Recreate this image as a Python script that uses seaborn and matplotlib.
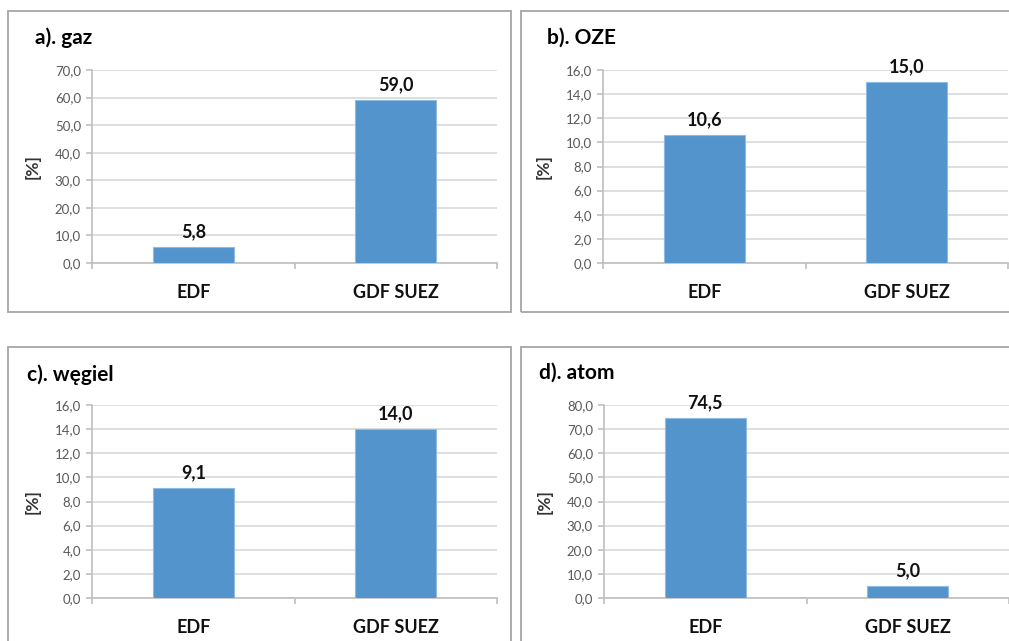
import numpy as np
import pandas as pd
import matplotlib
matplotlib.use("Agg")
import matplotlib.pyplot as plt
from matplotlib.patches import Rectangle
import seaborn as sns

companies = ["EDF", "GDF SUEZ"]
titles = ["a). gaz", "b). OZE", "c). węgiel", "d). atom"]
gaz = [5.8, 59.0]
oze = [10.6, 15.0]
wegiel = [9.1, 14.0]
atom = [74.5, 5.0]
y_max = [70, 16, 16, 80]
y_step = [10, 2, 2, 10]

sns.set_style("white")
plt.rcParams["font.family"] = ["Lato", "DejaVu Sans"]

W, H = 1009, 641
fig = plt.figure(figsize=(W / 100, H / 100), dpi=100)

def px(l, t, r, b):
    return [l / W, 1 - b / H, (r - l) / W, (b - t) / H]

# panel boxes (left, top, right, bottom) in pixels
boxes = [(8, 11, 511, 312), (521, 11, 1015, 312),
         (8, 347, 511, 650), (521, 347, 1015, 650)]
axes_pos = [(92, 70, 497, 263), (603, 70, 1008, 263),
            (92, 405, 497, 598), (604, 405, 1009, 598)]
title_pos = [(35, 38), (547, 38), (27, 375), (539, 373)]
series = [gaz, oze, wegiel, atom]

for box in boxes:
    l, t, r, b = box
    fig.patches.append(Rectangle((l / W, 1 - b / H), (r - l) / W, (b - t) / H,
                                 transform=fig.transFigure, fill=False,
                                 edgecolor="#a6a6a6", linewidth=1.3))

for i in range(4):
    ax = fig.add_axes(px(*axes_pos[i]))
    df = pd.DataFrame({"firma": companies, "udzial": series[i]})
    sns.barplot(data=df, x="firma", y="udzial", color="#5494cc", width=0.4,
                saturation=1, edgecolor="#8dbbe3", linewidth=0.8, ax=ax, zorder=3)
    ax.set_xlim(-0.5, 1.5)
    ax.set_ylim(0, y_max[i])
    ticks = np.arange(0, y_max[i] + 0.01, y_step[i])
    ax.set_yticks(ticks)
    ax.set_yticklabels([f"{v:.1f}".replace(".", ",") for v in ticks])
    ax.grid(axis="y", color="#d9d9d9", linewidth=1.2, zorder=0)
    ax.set_axisbelow(True)
    for s in ["top", "right"]:
        ax.spines[s].set_visible(False)
    for s in ["left", "bottom"]:
        ax.spines[s].set_color("#bfbfbf")
        ax.spines[s].set_linewidth(1.2)
    ax.tick_params(axis="y", length=4, color="#bfbfbf", width=1.2, pad=4,
                   labelsize=9.5, labelcolor="#595959", left=True)
    ax.set_xticks([-0.5, 0.5, 1.5], minor=True)
    ax.tick_params(axis="x", which="minor", length=4, color="#bfbfbf", width=1.2, bottom=True)
    ax.tick_params(axis="x", which="major", length=0, pad=15, labelsize=13,
                   labelcolor="#111111")
    for lab in ax.get_xticklabels():
        lab.set_fontweight("bold")
    ax.set_xlabel("")
    ax.set_ylabel("[%]", fontsize=12.5, fontweight="bold", color="#333333")
    ax.yaxis.set_label_coords(-0.128, 0.5)
    labels = [f"{v:.1f}".replace(".", ",") for v in series[i]]
    ax.bar_label(ax.containers[0], labels=labels, padding=5, fontsize=13,
                 fontweight="bold", color="#111111")
    for sp in ax.spines.values():
        sp.set_clip_on(False)
    fig.text(title_pos[i][0] / W, 1 - title_pos[i][1] / H, titles[i],
             fontsize=15, fontweight="bold", va="center", ha="left", color="#000000")

fig.savefig("out.png", dpi=100)
